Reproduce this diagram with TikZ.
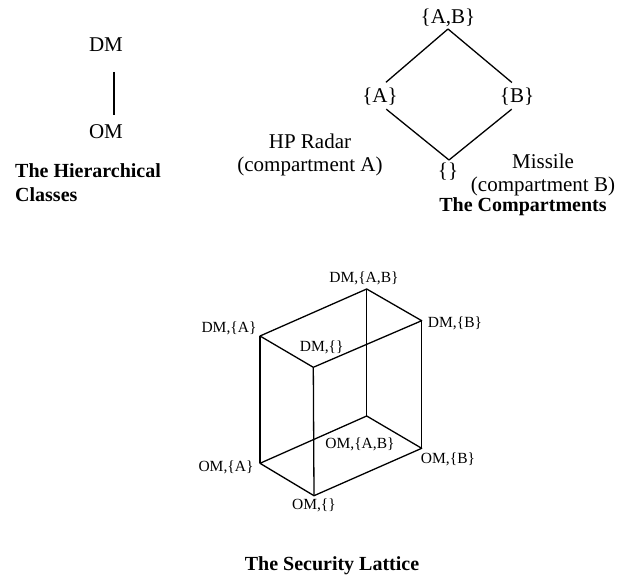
\documentclass[tikz,border=0pt]{standalone}
\usepackage{fontspec}
\setmainfont{Liberation Serif}
\begin{document}
\begin{tikzpicture}[x=1pt,y=-1pt,
  big/.style={font=\fontsize{21}{23}\selectfont, inner sep=0pt},
  small/.style={font=\fontsize{15.5}{18}\selectfont, inner sep=0pt},
  caption/.style={font=\fontsize{20}{24}\selectfont\bfseries, inner sep=0pt},
  edge/.style={line width=1.3pt},
]
\useasboundingbox (0,0) rectangle (621,580);

% Hierarchical classes
\node[big] (dm) at (106,45) {DM};
\node[big] (om) at (106,132) {OM};
\coordinate (h1) at (114,72);
\coordinate (h2) at (114,115);
\draw[edge] (h1) -- (h2);
\node[caption, anchor=north west, align=left] (hcap) at (15,163) {The Hierarchical\\Classes};

% Compartments
\node[big] (cab) at (448,18) {\{A,B\}};
\node[big] (ca) at (380,97) {\{A\}};
\node[big] (cb) at (517,97) {\{B\}};
\node[big] (c0) at (448,172) {\{\}};
\coordinate (vT) at (448,29);
\coordinate (vA) at (370,96);
\coordinate (vB) at (528,96);
\coordinate (vO) at (449,160);
\draw[edge, shorten >=21pt] (vT) -- (vA);
\draw[edge, shorten >=21pt] (vT) -- (vB);
\draw[edge, shorten <=21pt] (vA) -- (vO);
\draw[edge, shorten <=21pt] (vB) -- (vO);
\node[big, align=center] (hp) at (310,155) {HP Radar\\(compartment A)};
\node[big, align=center] (mis) at (543,175) {Missile\\(compartment B)};
\node[caption] (ccap) at (523,207) {The Compartments};

% Security lattice
\coordinate (DAB) at (366.7,289);
\coordinate (DB) at (421.7,320.7);
\coordinate (DA) at (260,336);
\coordinate (D0) at (313.3,367.3);
\coordinate (OAB) at (366.7,416);
\coordinate (OB) at (421.7,448.3);
\coordinate (OA) at (260,463.3);
\coordinate (O0) at (314,495.7);
\draw[edge, line join=round] (DA) -- (DAB) -- (DB) -- (D0) -- cycle;
\draw[edge, line join=round] (OA) -- (OAB) -- (OB) -- (O0) -- cycle;
\draw[edge] (DA) -- (OA);
\draw[edge] (DAB) -- (OAB);
\draw[edge] (DB) -- (OB);
\draw[edge] (D0) -- (O0);

\node[small] (lDAB) at (364,278) {DM,\{A,B\}};
\node[small] (lDB) at (455,323) {DM,\{B\}};
\node[small] (lDA) at (229,328) {DM,\{A\}};
\node[small] (lD0) at (321.7,347) {DM,\{\}};
\node[small] (lOAB) at (360,444) {OM,\{A,B\}};
\node[small] (lOB) at (448,459) {OM,\{B\}};
\node[small] (lOA) at (226,467) {OM,\{A\}};
\node[small] (lO0) at (314,505.7) {OM,\{\}};

\node[caption] (scap) at (332,566) {The Security Lattice};
\end{tikzpicture}
\end{document}
